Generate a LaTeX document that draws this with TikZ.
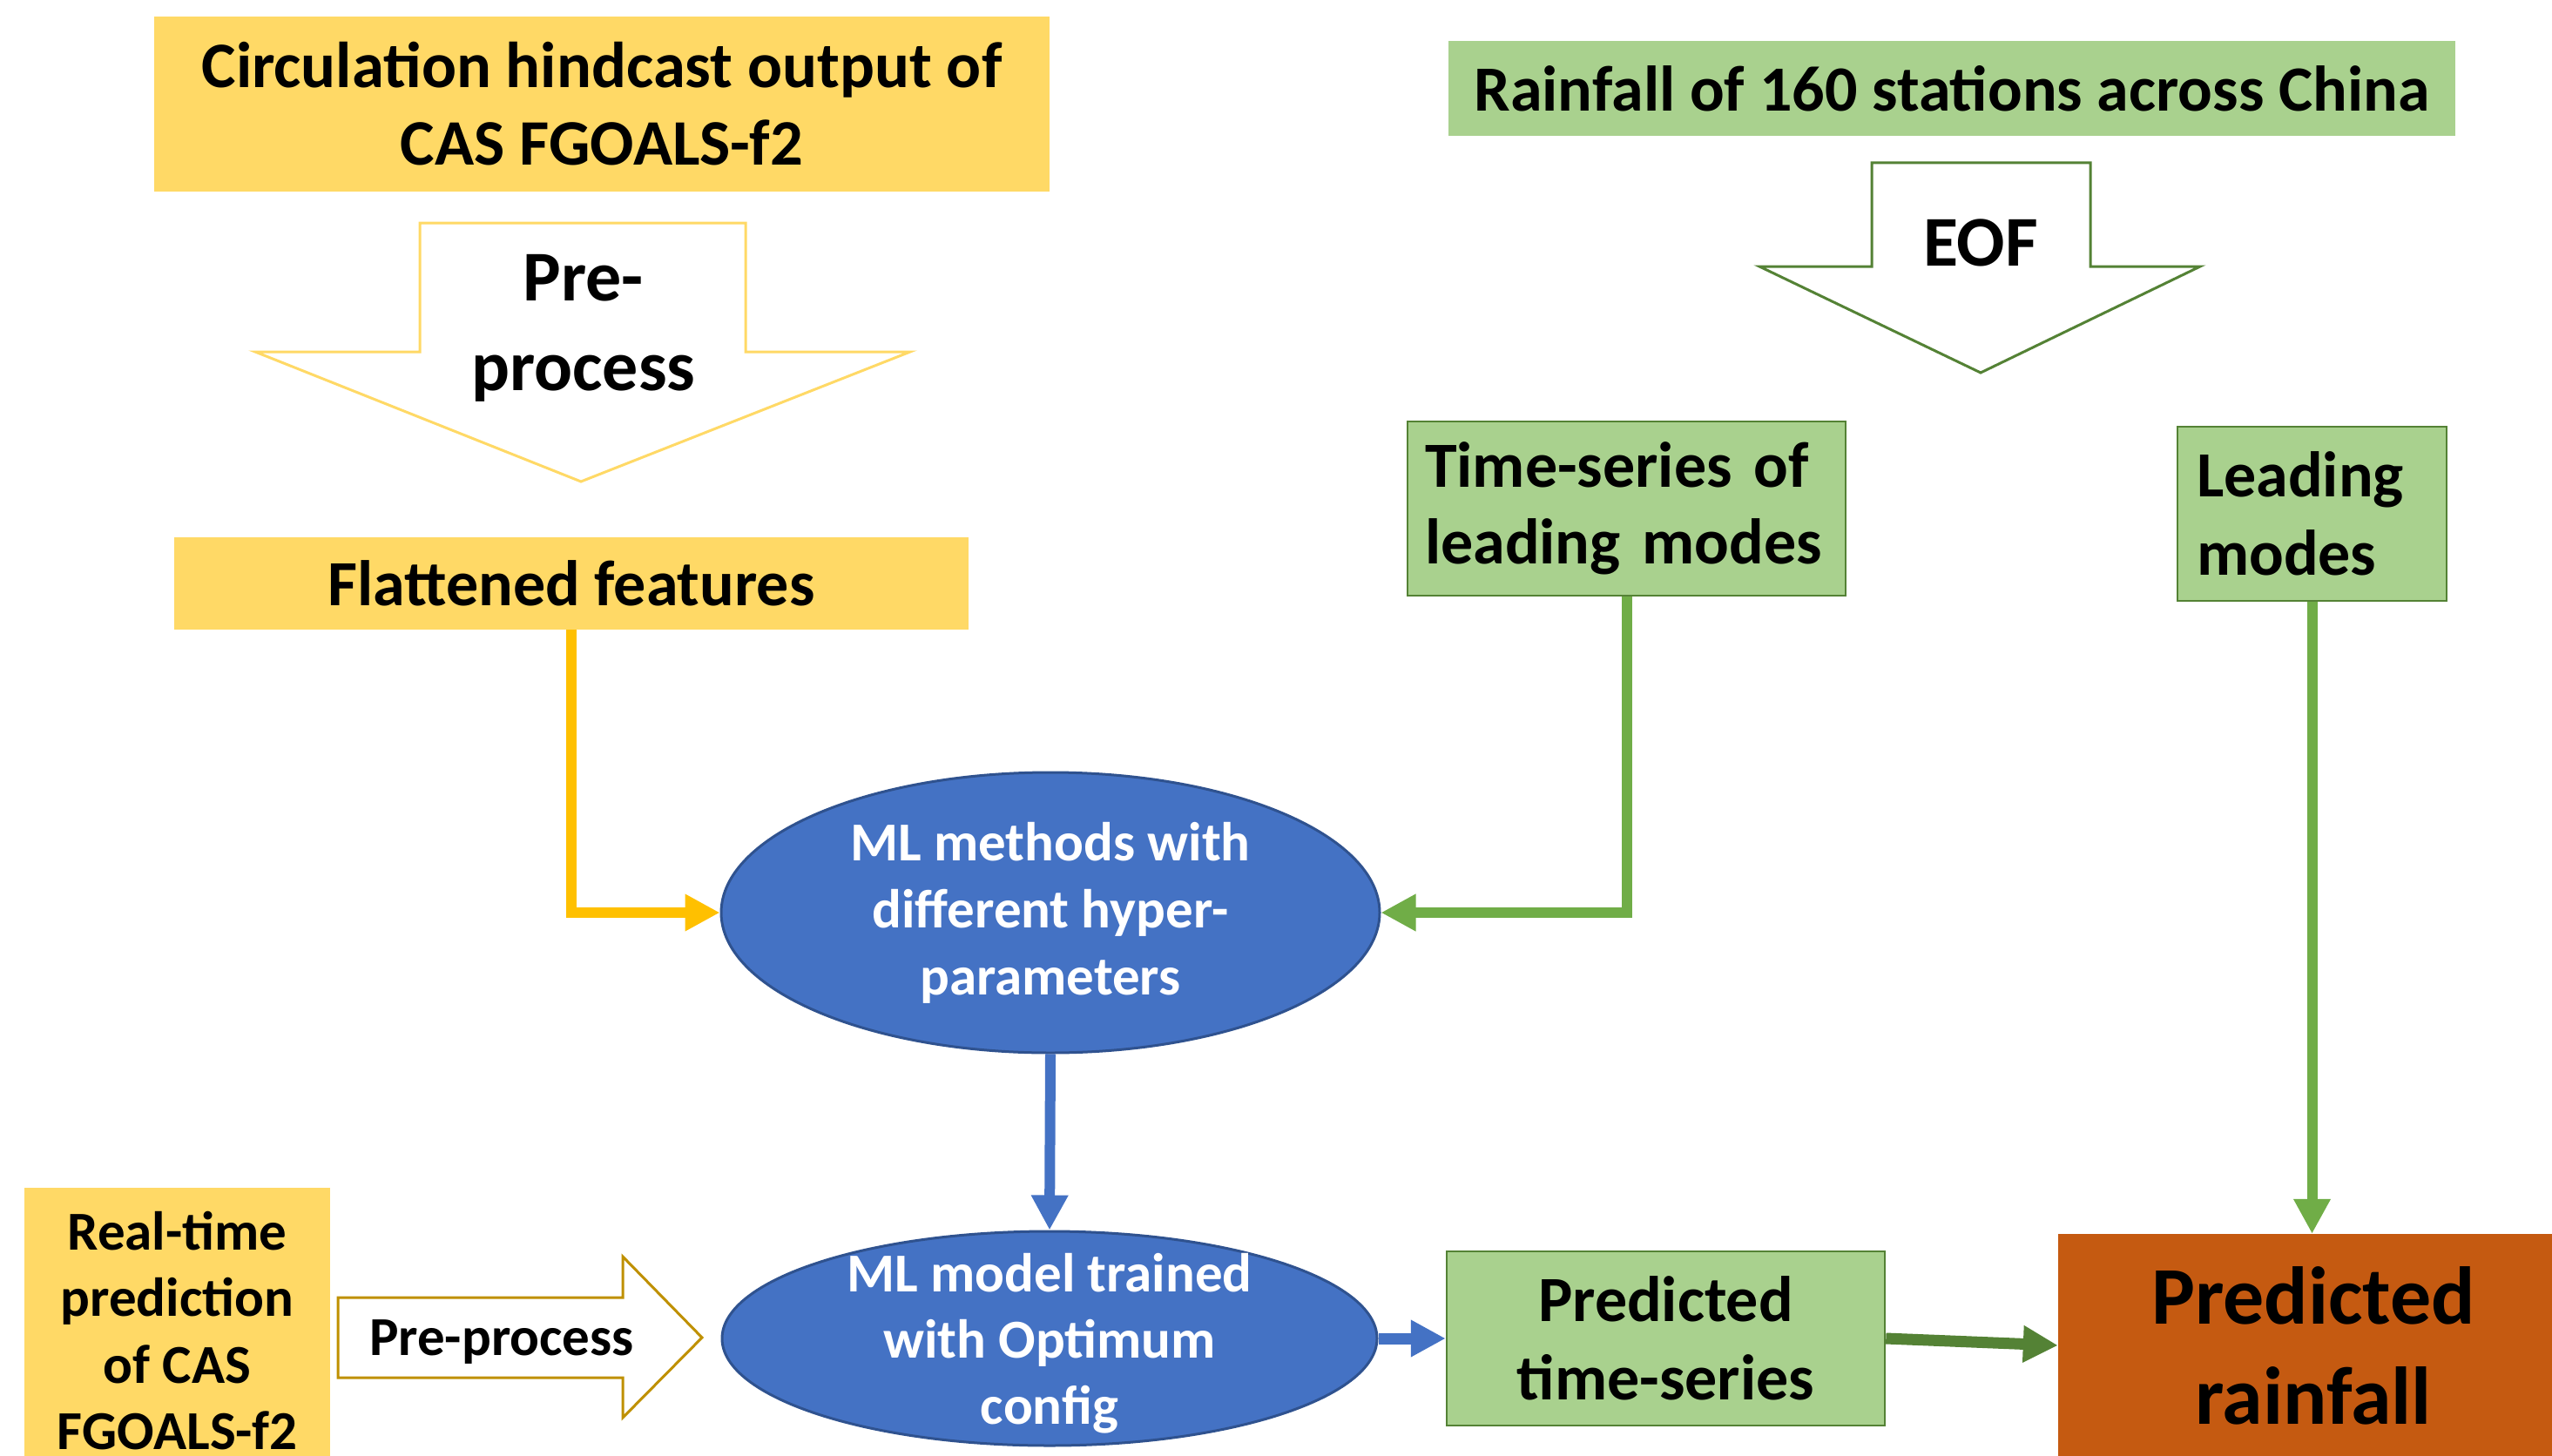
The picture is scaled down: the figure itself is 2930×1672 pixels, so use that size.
\documentclass[tikz,border=0pt]{standalone}
\usepackage{fontspec}
\setmainfont{Carlito}
\usetikzlibrary{arrows.meta,shapes.geometric}
\definecolor{yfill}{HTML}{FFD966}
\definecolor{gfill}{HTML}{A9D18E}
\definecolor{gdark}{HTML}{548235}
\definecolor{gline}{HTML}{70AD47}
\definecolor{yline}{HTML}{FFC000}
\definecolor{bfill}{HTML}{4472C4}
\definecolor{bdraw}{HTML}{2F528F}
\definecolor{ofill}{HTML}{C55A11}
\definecolor{gold}{HTML}{BF9000}
\newcommand\fz[2]{\fontsize{#1}{#2}\selectfont\bfseries}
\tikzset{
  ybox/.style={rectangle, fill=yfill, draw=none, inner sep=0pt, align=center, text=black},
  gbox/.style={rectangle, fill=gfill, draw=gdark, line width=2.5pt, inner sep=0pt, text=black},
  gplain/.style={rectangle, fill=gfill, draw=none, inner sep=0pt, align=center, text=black},
  mlell/.style={ellipse, fill=bfill, draw=bdraw, line width=3pt, inner sep=0pt, text=white, align=center},
  blockarrowy/.style={draw=yfill, line width=3pt, fill=white},
  blockarrowg/.style={draw=gdark, line width=3pt, fill=white},
  blockarrowo/.style={draw=gold, line width=3pt, fill=white},
  tip/.style={-{Triangle[length=40pt,width=40pt]}},
  yconn/.style={tip, draw=yline, line width=12pt},
  gconn/.style={tip, draw=gline, line width=12pt},
  bconn/.style={tip, draw=bfill, line width=12pt},
  dconn/.style={tip, draw=gdark, line width=13pt},
}
\begin{document}
\begin{tikzpicture}[x=1pt,y=-1pt]
\useasboundingbox (0,0) rectangle (2930,1672);
% top-left source box
\node[ybox, minimum width=1028pt, minimum height=201pt, font=\fz{74.5}{89}] (circ) at (691,119.5)
  {Circulation hindcast output of\\CAS FGOALS-f2};
% Pre-process block arrow
\draw[blockarrowy] (482,256) -- (856,256) -- (856,404) -- (1045,404) -- (667,553) -- (293,404) -- (482,404) -- cycle;
\node[align=center, inner sep=0pt, font=\fz{82}{103}] (pp1) at (670,377) {Pre-\\process};
% flattened features
\node[ybox, minimum width=912pt, minimum height=106pt, font=\fz{74}{88}] (flat) at (656,670) {Flattened features};
% rainfall box
\node[gplain, minimum width=1156pt, minimum height=109pt, font=\fz{74}{88}] (rain) at (2241,101.5) {Rainfall of 160 stations across China};
% EOF block arrow
\draw[blockarrowg] (2149,187) -- (2400,187) -- (2400,306) -- (2526,306) -- (2274,428) -- (2020,306) -- (2149,306) -- cycle;
\node[inner sep=0pt, font=\fz{82}{100}] (eof) at (2274,279) {EOF};
% time series / leading modes
\node[gbox, minimum width=503pt, minimum height=200pt, text width=463pt, align=left, font=\fz{74}{88}] (ts) at (1867.5,584)
  {Time-series of\\leading modes};
\node[gbox, minimum width=309pt, minimum height=200pt, text width=265pt, align=left, font=\fz{74}{90}] (lm) at (2654.5,590)
  {Leading\\modes};
% ML ellipses
\node[mlell, minimum width=756pt, minimum height=322pt, font=\fz{63}{77}] (ml1) at (1206,1048)
  {ML methods with\\different hyper-\\parameters};
\node[mlell, minimum width=752pt, minimum height=246pt] (ml2) at (1205,1537) {};
\node[inner sep=0pt, text=white, align=center, font=\fz{63}{76}] (ml2t) at (1205,1543)
  {ML model trained\\with Optimum\\config};
% predicted time-series
\node[gbox, minimum width=503pt, minimum height=200pt, align=center, font=\fz{74}{90}] (pts) at (1912.5,1537)
  {Predicted\\time-series};
% predicted rainfall
\node[rectangle, fill=ofill, inner sep=0pt, minimum width=586pt, minimum height=256pt, align=center, font=\fz{94}{115}] (prain) at (2656,1545)
  {Predicted\\rainfall};
% real-time prediction
\node[ybox, minimum width=351pt, minimum height=328pt, font=\fz{63}{76.5}] (rt) at (203.5,1528)
  {Real-time\\prediction\\of CAS\\FGOALS-f2};
% Pre-process right block arrow
\draw[blockarrowo] (388,1490) -- (715,1490) -- (715,1443) -- (806,1536) -- (715,1628) -- (715,1582) -- (388,1582) -- cycle;
\node[inner sep=0pt, font=\fz{63}{75}] (pp2) at (576,1541) {Pre-process};
% connectors
\draw[yconn] (flat.south) |- (ml1.west);
\draw[gconn] (ts.south) |- (ml1.east);
\draw[bconn] (ml1.south) -- (ml2.north);
\draw[tip, draw=bfill, line width=13pt] (ml2.east) -- (pts.west);
\draw[dconn] (pts.east) -- (prain.west);
\draw[gconn] (lm.south) -- (lm.south |- prain.north);
\end{tikzpicture}
\end{document}
